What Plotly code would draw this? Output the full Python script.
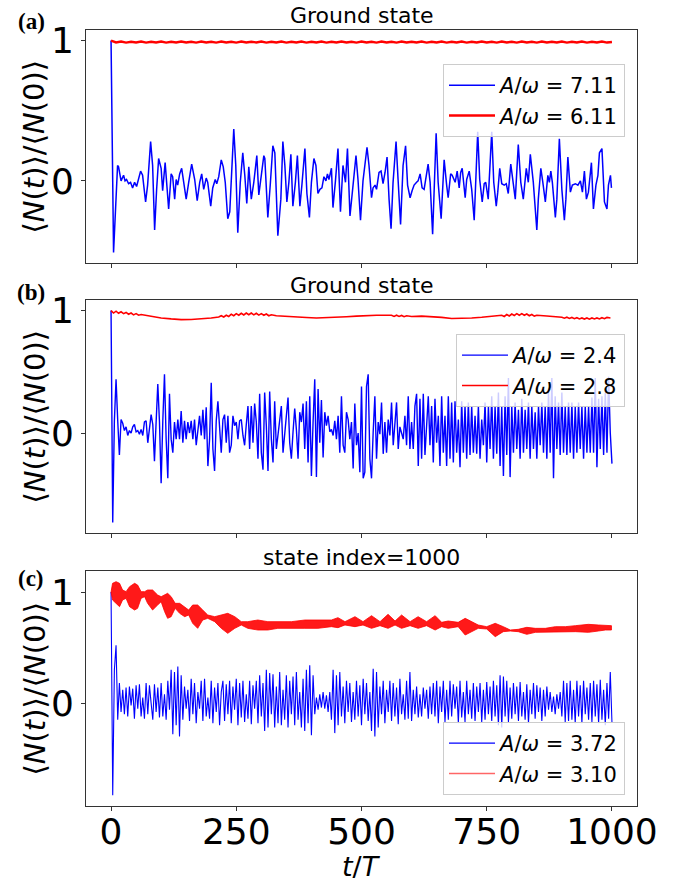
import numpy as np
import plotly.graph_objects as go

# ---- panel (a): ground state ----
T_A_BLUE = [0, 5, 13, 15, 20, 25, 28, 31, 35, 39,
            43, 47, 51, 55, 59, 63, 69, 73, 79, 83,
            87, 91, 95, 100, 103, 108, 111, 115, 120, 123,
            127, 130, 133, 137, 141, 145, 150, 155, 161, 167,
            172, 177, 181, 185, 190, 193, 199, 203, 208, 211,
            215, 220, 224, 228, 233, 237, 245, 249, 253, 258,
            263, 267, 271, 275, 280, 285, 291, 295, 300, 305,
            307, 313, 318, 323, 327, 333, 339, 343, 347, 351,
            355, 359, 363, 368, 372, 377, 381, 387, 391, 396,
            400, 405, 409, 413, 417, 421, 425, 429, 432, 435,
            440, 443, 448, 453, 458, 463, 468, 472, 477, 480,
            484, 489, 493, 498, 503, 511, 515, 520, 523, 527,
            530, 535, 539, 543, 547, 551, 555, 559, 563, 569,
            573, 578, 583, 588, 592, 597, 601, 605, 610, 613,
            617, 621, 625, 630, 633, 637, 642, 649, 653, 659,
            662, 665, 670, 673, 678, 681, 687, 691, 695, 698,
            701, 707, 710, 715, 720, 725, 728, 732, 736, 741,
            745, 748, 753, 760, 764, 769, 772, 776, 780, 785,
            789, 793, 798, 802, 807, 813, 818, 823, 829, 833,
            837, 843, 850, 853, 858, 862, 867, 872, 875, 878,
            881, 887, 890, 895, 900, 905, 908, 912, 917, 921,
            927, 932, 937, 941, 945, 949, 953, 959, 963, 968,
            972, 975, 980, 985, 990, 993, 997, 999]
A_BLUE = [1.0, -0.51, 0.11, 0.10, 0.0, 0.04, 0.0, 0.01, -0.02, -0.01,
          -0.05, -0.01, -0.04, 0.01, 0.07, 0.04, -0.15, -0.03, 0.28, 0.11,
          -0.35, -0.06, 0.16, 0.09, -0.07, 0.13, -0.01, -0.20, 0.05, 0.03,
          -0.13, 0.01, -0.03, 0.05, 0.09, 0.0, -0.13, -0.01, 0.12, 0.01,
          -0.14, -0.01, 0.05, -0.06, 0.02, -0.01, -0.18, -0.05, 0.01, -0.02,
          0.03, 0.15, 0.10, -0.01, -0.27, -0.22, 0.37, 0.11, -0.37, -0.01,
          0.20, 0.04, -0.16, 0.10, -0.13, -0.01, 0.18, -0.10, 0.04, 0.18,
          0.16, -0.26, -0.02, 0.25, 0.20, -0.39, -0.13, 0.28, 0.11, -0.15,
          -0.01, 0.19, -0.18, -0.01, 0.18, -0.18, -0.03, 0.23, -0.09, -0.26,
          -0.01, 0.16, 0.11, -0.09, -0.06, -0.05, 0.03, 0.0, 0.05, 0.01,
          0.09, -0.19, 0.0, 0.23, -0.22, 0.11, -0.01, 0.23, -0.25, -0.13,
          -0.01, 0.18, 0.01, -0.28, 0.0, 0.24, 0.11, -0.12, -0.05, -0.03,
          -0.06, 0.06, 0.07, -0.02, 0.06, 0.17, -0.13, -0.34, -0.01, 0.28,
          0.01, -0.31, 0.11, 0.25, -0.03, -0.12, -0.07, -0.03, -0.01, 0.0,
          0.05, -0.05, -0.06, 0.04, 0.12, -0.01, -0.38, 0.34, -0.01, -0.27,
          -0.02, 0.15, -0.03, -0.12, 0.05, 0.04, -0.01, 0.07, -0.05, 0.06,
          0.09, -0.12, 0.01, 0.07, -0.06, -0.28, -0.01, 0.35, 0.01, -0.15,
          -0.02, -0.01, -0.13, 0.35, -0.01, -0.18, -0.08, 0.09, -0.02, -0.03,
          -0.02, -0.09, 0.12, -0.01, -0.13, 0.26, -0.01, -0.13, 0.09, -0.01,
          0.19, -0.01, -0.35, -0.13, 0.09, -0.01, -0.15, 0.04, -0.01, 0.07,
          -0.01, -0.26, -0.13, 0.30, -0.06, -0.28, -0.13, 0.17, -0.08, -0.03,
          -0.02, -0.03, 0.0, -0.08, 0.07, -0.13, -0.08, 0.13, -0.20, -0.03,
          0.04, 0.20, 0.23, -0.15, -0.20, -0.03, 0.04, -0.05]
A_RED = [1.0, 0.987, 0.993, 0.986, 0.992, 0.987, 0.993, 0.986, 0.992, 0.987,
         0.993, 0.986, 0.992, 0.987, 0.993, 0.987, 0.992, 0.986, 0.993, 0.987,
         0.992, 0.986, 0.993, 0.987, 0.992, 0.986, 0.993, 0.987, 0.992, 0.987,
         0.993, 0.986, 0.992, 0.987, 0.993, 0.986, 0.992, 0.987, 0.993, 0.986,
         0.992, 0.987, 0.993, 0.986, 0.992, 0.987, 0.993, 0.987, 0.992, 0.986,
         0.993, 0.987, 0.992, 0.986, 0.993, 0.987, 0.992, 0.986, 0.993, 0.987,
         0.992, 0.987, 0.993, 0.986, 0.992, 0.987, 0.993, 0.986, 0.992, 0.987,
         0.993, 0.986, 0.992, 0.987, 0.993, 0.987, 0.992, 0.986, 0.993, 0.987,
         0.992, 0.986, 0.993, 0.987, 0.992, 0.986, 0.993, 0.987, 0.992, 0.987,
         0.993, 0.986, 0.992, 0.987, 0.993, 0.986, 0.992, 0.987, 0.993, 0.986,
         0.990]

# ---- panel (b): ground state ----
B_BLUE = [1.0, -0.73, 0.1, 0.44, 0.1, -0.18, 0.11, 0.08, 0.02, 0.05,
          -0.02, 0.02, 0.0, 0.05, 0.07, 0.01, 0.02, -0.01, 0.03, -0.02,
          0.09, 0.1, -0.08, 0.06, 0.15, 0.07, -0.23, 0.09, 0.4, 0.09,
          -0.41, 0.1, 0.48, -0.05, -0.37, 0.32, -0.05, -0.16, 0.09, -0.05,
          0.11, -0.05, 0.18, -0.08, 0.1, -0.05, 0.09, 0.0, 0.1, -0.05,
          0.11, -0.1, 0.03, 0.14, -0.02, 0.19, -0.05, 0.21, -0.27, -0.05,
          0.41, -0.13, -0.31, 0.1, 0.26, 0.03, -0.16, 0.11, 0.15, -0.08,
          0.14, -0.16, -0.1, 0.14, 0.06, 0.09, -0.05, 0.1, 0.11, -0.02,
          -0.1, 0.07, 0.22, -0.13, 0.22, -0.08, 0.24, 0.09, -0.21, 0.32,
          -0.16, -0.3, 0.33, 0.06, -0.31, 0.34, -0.05, -0.24, 0.26, -0.13,
          -0.02, 0.09, 0.22, -0.16, -0.02, 0.09, 0.29, -0.08, -0.21, 0.01,
          0.2, 0.03, -0.21, 0.17, 0.09, 0.24, -0.13, 0.26, -0.24, 0.3,
          -0.35, 0.09, 0.44, -0.36, 0.36, -0.08, 0.27, -0.2, 0.17, 0.06,
          0.14, 0.01, 0.03, -0.02, 0.1, -0.05, 0.14, -0.16, 0.3, -0.1,
          -0.16, 0.17, 0.11, -0.05, 0.09, -0.29, 0.24, -0.1, 0.0, -0.32,
          0.38, -0.37, -0.32, 0.38, 0.48, -0.21, -0.37, 0.01, 0.3, -0.21,
          0.09, -0.01, 0.25, -0.17, 0.09, -0.16, 0.11, -0.02, 0.25, -0.1,
          0.09, 0.25, -0.13, 0.05, 0.0, -0.05, 0.14, -0.1, 0.3, -0.13,
          0.09, -0.13, 0.22, 0.32, -0.27, 0.28, -0.21, 0.32, -0.18, 0.09,
          0.3, -0.1, 0.22, -0.24, 0.28, -0.08, 0.14, -0.27, 0.3, -0.16,
          0.14, -0.27, 0.3, -0.21, 0.25, -0.24, 0.26, -0.16, 0.11, -0.28,
          0.26, -0.16, 0.22, -0.21, 0.25, -0.18, 0.22, -0.16, 0.14, -0.17,
          0.22, -0.21, 0.11, -0.1, 0.25, -0.24, 0.22, -0.13, 0.3, -0.21,
          0.22, -0.17, 0.33, -0.27, 0.22, -0.35, 0.3, -0.18, 0.45, -0.36,
          0.22, -0.16, 0.25, -0.13, 0.19, -0.21, 0.28, -0.16, 0.19, -0.13,
          0.25, -0.21, 0.22, -0.13, 0.17, -0.21, 0.22, -0.1, 0.25, -0.16,
          0.22, -0.21, 0.33, -0.16, 0.45, -0.37, 0.3, -0.13, 0.25, -0.18,
          0.33, -0.16, 0.22, -0.18, 0.25, -0.16, 0.25, -0.21, 0.22, -0.16,
          0.25, -0.13, 0.22, -0.21, 0.22, -0.16, 0.22, -0.16, 0.29, -0.16,
          0.45, -0.28, 0.28, -0.13, 0.3, -0.18, 0.33, -0.16, 0.46, 0.0,
          -0.25]
T_B_RED = [0, 5, 10, 15, 20, 25, 30, 35, 40, 45,
           50, 55, 60, 80, 100, 120, 140, 160, 180, 200,
           215, 220, 225, 230, 235, 240, 245, 250, 255, 260,
           265, 270, 275, 280, 285, 290, 295, 300, 305, 310,
           315, 320, 330, 350, 370, 390, 410, 430, 450, 470,
           490, 510, 530, 560, 565, 570, 575, 580, 585, 590,
           600, 620, 640, 660, 680, 700, 720, 740, 760, 780,
           785, 790, 795, 800, 805, 810, 815, 820, 825, 830,
           835, 840, 845, 850, 870, 890, 900, 905, 910, 915,
           920, 925, 930, 935, 940, 945, 950, 955, 960, 965,
           970, 975, 980, 985, 990, 997]
B_RED = [1.0, 0.98, 0.995, 0.978, 0.99, 0.975, 0.985, 0.97, 0.98, 0.965,
         0.975, 0.962, 0.968, 0.952, 0.94, 0.932, 0.926, 0.927, 0.932, 0.94,
         0.948, 0.958, 0.948, 0.962, 0.952, 0.97, 0.958, 0.975, 0.962, 0.978,
         0.964, 0.98, 0.966, 0.98, 0.965, 0.978, 0.963, 0.975, 0.962, 0.972,
         0.958, 0.966, 0.958, 0.952, 0.948, 0.944, 0.94, 0.942, 0.946, 0.95,
         0.955, 0.96, 0.962, 0.962, 0.952, 0.962, 0.952, 0.96, 0.95, 0.958,
         0.952, 0.955, 0.952, 0.945, 0.936, 0.937, 0.94, 0.946, 0.952, 0.962,
         0.952, 0.968, 0.956, 0.972, 0.96, 0.975, 0.962, 0.975, 0.962, 0.972,
         0.958, 0.968, 0.955, 0.962, 0.956, 0.95, 0.946, 0.938, 0.946, 0.936,
         0.944, 0.934, 0.942, 0.932, 0.94, 0.931, 0.94, 0.93, 0.94, 0.932,
         0.94, 0.932, 0.942, 0.934, 0.944, 0.94]

# ---- panel (c): state index = 1000 ----
C_BLUE = [1.0, -0.83, 0.3, 0.52, -0.15, 0.18, -0.08, 0.12, -0.1, 0.14,
          -0.12, 0.15, -0.02, 0.13, -0.14, 0.16, -0.05, 0.17, -0.12, 0.05,
          -0.14, 0.18, -0.1, 0.16, 0.0, -0.15, 0.17, -0.08, 0.14, -0.13,
          0.18, -0.12, 0.08, -0.15, 0.2, -0.06, 0.3, -0.28, 0.28, -0.2,
          0.33, -0.3, 0.25, -0.15, 0.15, -0.05, 0.12, -0.16, 0.22, -0.1,
          0.18, -0.18, 0.1, -0.05, 0.2, -0.16, 0.22, -0.12, 0.05, -0.14,
          0.2, -0.18, 0.14, -0.08, 0.18, -0.2, 0.1, 0.2, -0.16, 0.17,
          -0.1, 0.2, -0.18, 0.15, -0.06, 0.22, -0.2, 0.18, -0.13, 0.2,
          -0.17, 0.08, -0.14, 0.2, -0.19, 0.16, -0.05, 0.2, -0.18, 0.25,
          -0.12, 0.18, -0.25, 0.3, -0.22, 0.27, -0.1, 0.26, -0.22, 0.15,
          -0.18, 0.28, -0.2, 0.12, -0.15, 0.25, -0.22, 0.2, -0.1, 0.24,
          -0.2, 0.28, -0.15, 0.1, -0.22, 0.22, -0.25, 0.3, -0.18, 0.34,
          -0.29, 0.25, -0.1, 0.05, -0.06, 0.08, -0.04, 0.1, -0.05, 0.07,
          -0.08, 0.1, -0.15, 0.3, -0.27, 0.25, -0.2, 0.28, -0.12, 0.15,
          -0.18, 0.2, -0.08, 0.18, -0.17, 0.1, -0.15, 0.2, -0.12, 0.16,
          -0.2, 0.22, -0.1, 0.18, -0.16, 0.1, -0.25, 0.31, -0.3, 0.28,
          -0.22, 0.15, -0.1, 0.2, -0.18, 0.12, -0.08, 0.2, -0.16, 0.18,
          -0.12, 0.14, -0.19, 0.22, -0.1, 0.08, -0.15, 0.2, -0.14, 0.28,
          -0.16, 0.12, -0.1, 0.15, -0.13, 0.08, -0.12, 0.14, -0.05, 0.12,
          -0.14, 0.15, -0.1, 0.18, -0.12, 0.2, -0.18, 0.15, -0.08, 0.2,
          -0.17, 0.12, -0.15, 0.2, -0.12, 0.17, -0.05, 0.15, -0.18, 0.2,
          -0.13, 0.1, -0.17, 0.2, -0.1, 0.12, -0.14, 0.18, -0.16, 0.15,
          -0.08, 0.18, -0.17, 0.12, -0.15, 0.19, -0.1, 0.15, -0.16, 0.2,
          -0.12, 0.16, -0.2, 0.25, -0.22, 0.24, -0.12, 0.2, -0.17, 0.14,
          -0.14, 0.18, -0.1, 0.15, -0.16, 0.19, -0.12, 0.1, -0.15, 0.17,
          -0.18, 0.12, -0.1, 0.18, -0.14, 0.16, -0.08, 0.14, -0.16, 0.12,
          -0.12, 0.15, -0.06, 0.1, -0.08, 0.06, -0.1, 0.08, -0.05, 0.1,
          -0.12, 0.2, -0.17, 0.18, -0.16, 0.2, -0.15, 0.12, -0.18, 0.2,
          -0.12, 0.16, -0.18, 0.2, -0.1, 0.14, -0.15, 0.18, -0.17, 0.2,
          -0.12, 0.17, -0.18, 0.21, -0.15, 0.12, -0.2, 0.18, -0.14, 0.28,
          -0.17]
# red curve in (c) oscillates too fast to resolve: keep its envelope
T_C_RED = [0, 3, 10, 17, 23, 30, 37, 47, 53, 60,
           67, 73, 83, 93, 100, 107, 113, 120, 128, 137,
           147, 155, 163, 173, 183, 193, 207, 220, 233, 247,
           260, 273, 293, 313, 333, 360, 387, 413, 440, 453,
           467, 487, 503, 520, 537, 553, 567, 580, 597, 613,
           630, 647, 660, 673, 693, 707, 720, 733, 750, 767,
           783, 797, 813, 830, 847, 867, 887, 907, 927, 953,
           973, 987, 999]
C_RED_UP = [1.0, 1.078, 1.093, 1.078, 1.018, 1.003, 1.048, 1.078, 1.063, 1.003,
            1.003, 1.018, 1.018, 0.973, 0.958, 0.973, 0.988, 0.958, 0.898, 0.898,
            0.868, 0.838, 0.883, 0.883, 0.838, 0.793, 0.778, 0.793, 0.808, 0.778,
            0.733, 0.733, 0.748, 0.733, 0.733, 0.733, 0.748, 0.748, 0.748, 0.769,
            0.733, 0.778, 0.733, 0.787, 0.733, 0.799, 0.739, 0.793, 0.733, 0.778,
            0.733, 0.787, 0.727, 0.739, 0.727, 0.763, 0.733, 0.703, 0.688, 0.718,
            0.688, 0.658, 0.664, 0.682, 0.673, 0.673, 0.688, 0.688, 0.697, 0.709,
            0.703, 0.703, 0.697]
C_RED_LO = [1.0, 0.928, 0.898, 0.868, 0.928, 0.943, 0.868, 0.838, 0.853, 0.943,
            0.958, 0.898, 0.838, 0.883, 0.913, 0.823, 0.763, 0.778, 0.853, 0.808,
            0.778, 0.793, 0.718, 0.673, 0.748, 0.763, 0.733, 0.673, 0.628, 0.673,
            0.703, 0.673, 0.658, 0.658, 0.673, 0.673, 0.673, 0.673, 0.688, 0.679,
            0.703, 0.688, 0.703, 0.673, 0.697, 0.673, 0.703, 0.673, 0.697, 0.673,
            0.697, 0.658, 0.688, 0.673, 0.688, 0.613, 0.643, 0.673, 0.667, 0.598,
            0.643, 0.649, 0.643, 0.619, 0.637, 0.637, 0.637, 0.643, 0.643, 0.637,
            0.649, 0.658, 0.658]

LABELS = {
    "a": ("<i>A</i>/<i>ω</i> = 7.11", "<i>A</i>/<i>ω</i> = 6.11"),
    "b": ("<i>A</i>/<i>ω</i> = 2.4", "<i>A</i>/<i>ω</i> = 2.8"),
    "c": ("<i>A</i>/<i>ω</i> = 3.72", "<i>A</i>/<i>ω</i> = 3.10"),
}
TITLES = ["Ground state", "Ground state", "state index=1000"]
X_TICKS = [0, 250, 500, 750, 1000]
Y_LABEL = "⟨<i>N</i>(<i>t</i>)⟩/⟨<i>N</i>(0)⟩"

FONT = "DejaVu Sans"
W, H = 683, 882


def px_x(p):
    return p / W


def px_y(p):
    return 1 - p / H


# panel boxes in pixels (top, bottom)
boxes = [(30, 263), (300, 533), (571, 806)]
yranges = [[-0.585, 1.0755], [-0.8165, 1.0865], [-0.926, 1.189]]
xdom = [px_x(86), px_x(637)]

fig = go.Figure()

# (a)
fig.add_trace(go.Scatter(x=T_A_BLUE, y=A_BLUE, mode="lines", name=LABELS["a"][0],
                         line=dict(color="blue", width=1.5), xaxis="x", yaxis="y", legend="legend"))
fig.add_trace(go.Scatter(x=np.linspace(0, 1000, len(A_RED)), y=A_RED, mode="lines", name=LABELS["a"][1],
                         line=dict(color="red", width=2.4), xaxis="x", yaxis="y", legend="legend"))
# (b)
fig.add_trace(go.Scatter(x=np.linspace(0, 1000, len(B_BLUE)), y=B_BLUE, mode="lines", name=LABELS["b"][0],
                         line=dict(color="blue", width=1.4), xaxis="x2", yaxis="y2", legend="legend2"))
fig.add_trace(go.Scatter(x=T_B_RED, y=B_RED, mode="lines", name=LABELS["b"][1],
                         line=dict(color="red", width=1.6), xaxis="x2", yaxis="y2", legend="legend2"))
# (c)
fig.add_trace(go.Scatter(x=np.linspace(0, 1000, len(C_BLUE)), y=C_BLUE, mode="lines", name=LABELS["c"][0],
                         line=dict(color="blue", width=1.1), xaxis="x3", yaxis="y3", legend="legend3"))
fig.add_trace(go.Scatter(x=T_C_RED + T_C_RED[::-1], y=C_RED_UP + C_RED_LO[::-1], mode="lines",
                         fill="toself", fillcolor="rgba(255,0,0,0.9)",
                         line=dict(color="red", width=0.8), showlegend=False,
                         xaxis="x3", yaxis="y3", hoverinfo="skip"))
fig.add_trace(go.Scatter(x=[None], y=[None], mode="lines", name=LABELS["c"][1],
                         line=dict(color="rgba(255,0,0,0.6)", width=1.6),
                         xaxis="x3", yaxis="y3", legend="legend3"))

axis_common = dict(showgrid=False, zeroline=False, showline=True, linecolor="#333333",
                   linewidth=1, mirror=True, ticks="outside", ticklen=4, tickcolor="#333333",
                   automargin=False)

layout = dict(
    width=W, height=H, margin=dict(l=0, r=0, t=0, b=0, pad=0, autoexpand=False),
    paper_bgcolor="white", plot_bgcolor="white",
    font=dict(family=FONT, color="black"),
)
for i, (top, bot) in enumerate(boxes):
    sfx = "" if i == 0 else str(i + 1)
    layout["xaxis" + sfx] = dict(domain=xdom, anchor="y" + sfx, range=[-50, 1050],
                                 tickvals=X_TICKS, showticklabels=(i == 2),
                                 tickfont=dict(size=36), ticklabelstandoff=-10, **axis_common)
    layout["yaxis" + sfx] = dict(domain=[px_y(bot), px_y(top)], anchor="x" + sfx,
                                 range=yranges[i], tickvals=[0, 1], ticktext=["0", "1"],
                                 tickfont=dict(size=36), **axis_common)

leg_common = dict(font=dict(size=21, family=FONT), bgcolor="rgba(255,255,255,0.8)",
                  bordercolor="#cccccc", borderwidth=1, xanchor="right", x=px_x(625),
                  itemwidth=46)
layout["legend"] = dict(y=px_y(64), yanchor="top", **leg_common)
layout["legend2"] = dict(y=px_y(334), yanchor="top", **leg_common)
layout["legend3"] = dict(y=px_y(795), yanchor="bottom", **leg_common)
fig.update_layout(**layout)

# titles, panel letters, y labels (all centred on their anchor point)
title_y = [15, 285, 557]
letter_y = [22, 292, 578]
ann = dict(xref="paper", yref="paper", showarrow=False, xanchor="center", yanchor="middle")
for i, (top, bot) in enumerate(boxes):
    fig.add_annotation(text=TITLES[i], x=sum(xdom) / 2, y=px_y(title_y[i]),
                       font=dict(size=22, family=FONT, color="black"), **ann)
    fig.add_annotation(text="<b>(%s)</b>" % "abc"[i], x=px_x(31), y=px_y(letter_y[i]),
                       font=dict(size=23, family="Liberation Serif", color="black"), **ann)
    fig.add_annotation(text=Y_LABEL, textangle=-90, x=px_x(34), y=px_y((top + bot) / 2),
                       font=dict(size=29, family=FONT, color="black"), **ann)

fig.add_annotation(text="<i>t</i>/<i>T</i>", x=sum(xdom) / 2, y=px_y(866),
                   font=dict(size=27, family=FONT, color="black"), **ann)

# the page body keeps its default 8px margin unless it is reset
fig.write_html("out.html", config={"displayModeBar": False},
               post_script="document.body.style.margin='0px';")
